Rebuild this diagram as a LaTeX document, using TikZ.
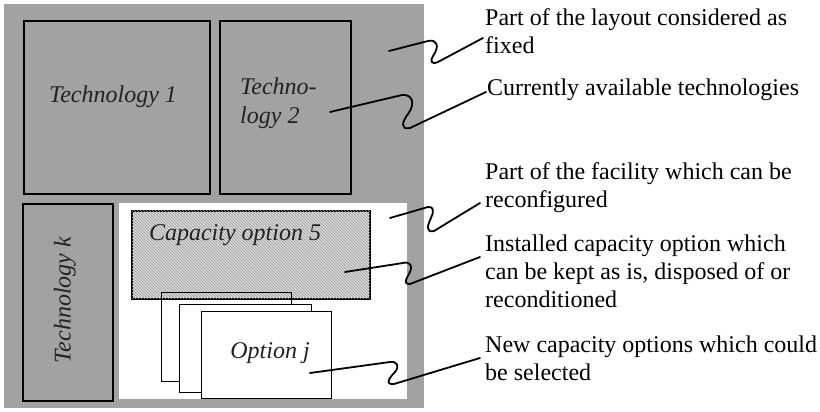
\documentclass[tikz,border=0pt]{standalone}
\usepackage{fontspec}
\setmainfont{Liberation Serif}
\usetikzlibrary{patterns}
\definecolor{bggray}{HTML}{A2A2A2}
\definecolor{capgray}{HTML}{D8D8D8}
\definecolor{hatchgray}{HTML}{9C9C9C}
\definecolor{txtdark}{HTML}{222222}
\begin{document}
\begin{tikzpicture}[x=1pt,y=1pt,
  boxlabel/.style={font=\fontsize{24}{29}\selectfont\itshape, text=txtdark, inner sep=0pt},
  note/.style={font=\fontsize{24}{28}\selectfont, align=left, anchor=north west, inner sep=0pt},
  techbox/.style={draw=black, line width=2.2pt, anchor=north west, inner sep=0pt},
  capbox/.style={draw=black, line width=1.6pt, fill=capgray, anchor=north west, inner sep=0pt,
    postaction={pattern=north west lines, pattern color=hatchgray}},
  optbox/.style={draw=black, line width=1pt, anchor=north west, inner sep=0pt},
  leader/.style={draw=black, line width=1.8pt, line join=round, line cap=round}]
\useasboundingbox (0,0) rectangle (820,-412);
\fill[white] (0,0) rectangle (820,-412);
% fixed part of the layout
\node[fill=bggray, anchor=north west, inner sep=0pt, minimum width=420, minimum height=404] (fixed) at (4,-4) {};
% technology boxes
\node[techbox, minimum width=186, minimum height=173] (t1) at (23,-20) {};
\node[techbox, minimum width=131, minimum height=173] (t2) at (219,-20) {};
\node[techbox, minimum width=90, minimum height=197] (tk) at (22,-203) {};
% reconfigurable part
\node[fill=white, anchor=north west, inner sep=0pt, minimum width=288, minimum height=196] (recon) at (119,-203) {};
% installed capacity option
\node[capbox, minimum width=238, minimum height=88] (cap5) at (131,-210) {};
% new options
\node[optbox, minimum width=130, minimum height=89] (o1) at (161,-292) {};
\node[optbox, fill=white, minimum width=132, minimum height=88] (o2) at (179,-304) {};
\node[optbox, fill=white, minimum width=130, minimum height=87] (o3) at (201,-311) {};
% box labels
\node[boxlabel] (l1) at (113,-97) {Technology 1};
\node[boxlabel, align=left, anchor=west] (l2) at (240,-103) {Techno-\\logy 2};
\node[boxlabel, rotate=90] (lk) at (65,-300) {Technology \textit{k}};
\node[boxlabel] (l5) at (235,-235) {Capacity option 5};
\node[boxlabel] (lj) at (270,-353) {Option \textit{j}};
% explanatory notes
\node[note] (n1) at (485,-8) {Part of the layout considered as\\fixed};
\node[note] (n2) at (487,-79) {Currently available technologies};
\node[note] (n3) at (485,-162) {Part of the facility which can be\\reconfigured};
\node[note] (n4) at (485,-235) {Installed capacity option which\\can be kept as is, disposed of or\\reconditioned};
\node[note] (n5) at (485,-336) {New capacity options which could\\be selected};
% leader line end points
\coordinate (s1) at (389,-51);  \coordinate (e1) at (483,-38);
\coordinate (s2) at (330,-112); \coordinate (e2) at (486,-92);
\coordinate (s3) at (390,-218); \coordinate (e3) at (480,-203);
\coordinate (s4) at (345,-272); \coordinate (e4) at (480,-257);
\coordinate (s5) at (310,-373); \coordinate (e5) at (480,-358);
% leader lines
\draw[leader] (s1) -- (428,-41) .. controls (437,-39) and (440,-46) .. (433,-56)
  .. controls (430,-61) and (431,-65) .. (438,-62) -- (e1);
\draw[leader] (s2) -- (402,-95) .. controls (412,-94) and (416,-103) .. (408,-114)
  .. controls (402,-122) and (400,-130) .. (410,-128) -- (e2);
\draw[leader] (s3) -- (428,-207) .. controls (434,-206) and (434,-212) .. (431,-218)
  .. controls (427,-226) and (426,-233) .. (434,-231) -- (e3);
\draw[leader] (s4) -- (403,-263) .. controls (410,-261) and (413,-266) .. (410,-272)
  .. controls (407,-278) and (402,-284) .. (410,-284) -- (e4);
\draw[leader] (s5) -- (390,-362) .. controls (397,-361) and (400,-366) .. (395,-372)
  .. controls (390,-377) and (384,-385) .. (394,-384) -- (e5);
\end{tikzpicture}
\end{document}
